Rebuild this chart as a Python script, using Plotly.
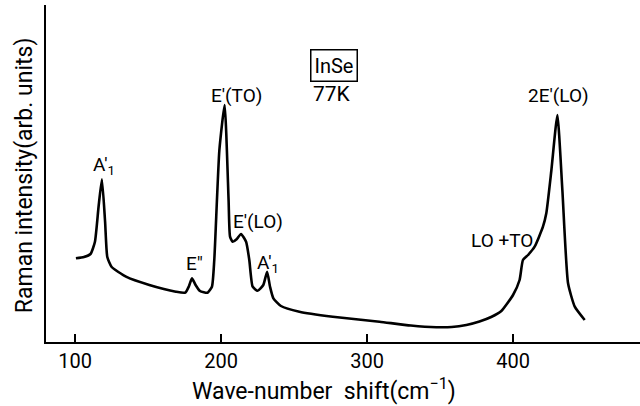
import plotly.graph_objects as go

# Raman spectrum of InSe at 77 K (arbitrary units)
wavenumber = [100.5, 106.0, 110.5, 113.5, 116.0, 118.3, 120.5, 122.0, 125.0, 134.8,
              150.8, 169.0, 175.4, 178.0, 180.0, 182.5, 185.5, 190.7, 193.7, 195.3,
              198.8, 202.4, 205.1, 206.1, 207.9, 210.6, 213.6, 217.1, 219.3, 221.6,
              225.0, 228.9, 231.5, 233.5, 235.8, 241.0, 253.6, 276.5, 308.5, 330.0,
              347.4, 358.0, 368.0, 377.0, 385.0, 392.0, 400.0, 404.5, 406.8, 410.3,
              414.8, 420.5, 422.8, 426.3, 430.4, 433.8, 437.7, 442.3, 449.1]
intensity = [83.7, 85.0, 88.0, 100.0, 135.0, 162.7, 120.0, 85.0, 75.0, 65.3,
             57.0, 50.3, 49.3, 56.0, 63.7, 57.0, 51.0, 49.3, 55.3, 82.0,
             192.0, 237.0, 142.0, 105.3, 100.3, 102.7, 108.0, 100.3, 82.0, 55.3,
             51.3, 57.0, 70.3, 55.3, 43.7, 36.0, 30.3, 25.3, 20.3, 16.5,
             14.8, 15.0, 17.0, 20.5, 25.0, 31.0, 47.0, 62.0, 82.0, 87.0,
             95.3, 115.3, 128.7, 172.0, 227.0, 152.0, 58.7, 35.3, 22.0]

peak_labels = ["A′<sub>1</sub>", "E″", "E′(TO)", "E′(LO)", "A′<sub>1</sub>", "LO +TO", "2E′(LO)"]
peak_label_x = [119.9, 181.6, 210.4, 225.5, 232.4, 392.5, 431.3]
peak_label_y = [177, 79, 247, 121, 79, 102, 247]

x_ticks = [100, 200, 300, 400]

FONT = "Roboto"

fig = go.Figure()
fig.add_trace(go.Scatter(
    x=wavenumber, y=intensity, mode="lines",
    line=dict(color="black", width=2.6, shape="spline", smoothing=0.5),
    showlegend=False, hoverinfo="skip"))

annotations = []
for t, xx, yy in zip(peak_labels, peak_label_x, peak_label_y):
    annotations.append(dict(x=xx, y=yy, xref="x", yref="y", text=t, showarrow=False,
                            font=dict(family=FONT, size=19, color="black"),
                            xanchor="center", yanchor="middle"))
annotations.append(dict(x=277, y=277, xref="x", yref="y", text="InSe", showarrow=False,
                        font=dict(family=FONT, size=20, color="black"),
                        bordercolor="black", borderwidth=1.5, borderpad=3,
                        xanchor="center", yanchor="middle"))
annotations.append(dict(x=276.3, y=248, xref="x", yref="y", text="77K", showarrow=False,
                        font=dict(family=FONT, size=21, color="black"),
                        xanchor="center", yanchor="middle"))
annotations.append(dict(x=0.468, y=-0.14, xref="paper", yref="paper",
                        text="Wave-number  shift(cm<sup>−1</sup>)", showarrow=False,
                        font=dict(family=FONT, size=23, color="black"),
                        xanchor="center", yanchor="middle"))
annotations.append(dict(x=-0.037, y=0.495, xref="paper", yref="paper",
                        text="Raman intensity(arb. units)", showarrow=False, textangle=-90,
                        font=dict(family=FONT, size=23, color="black"),
                        xanchor="center", yanchor="middle"))

fig.update_layout(
    width=640, height=406,
    margin=dict(l=46, r=0, t=5, b=64),
    paper_bgcolor="white", plot_bgcolor="white",
    annotations=annotations,
    xaxis=dict(range=[80, 487], tickmode="array", tickvals=x_ticks,
               ticktext=[str(v) for v in x_ticks],
               ticks="inside", ticklen=8, tickwidth=1.5, tickcolor="black",
               showline=True, linecolor="black", linewidth=2,
               showgrid=False, zeroline=False,
               tickfont=dict(family=FONT, size=20, color="black")),
    yaxis=dict(range=[0, 337], showticklabels=False, ticks="",
               showline=True, linecolor="black", linewidth=2,
               showgrid=False, zeroline=False),
)

fig.write_html("out.html", config={"displayModeBar": False},
               post_script="document.body.style.margin='0';document.body.style.overflow='hidden';")
